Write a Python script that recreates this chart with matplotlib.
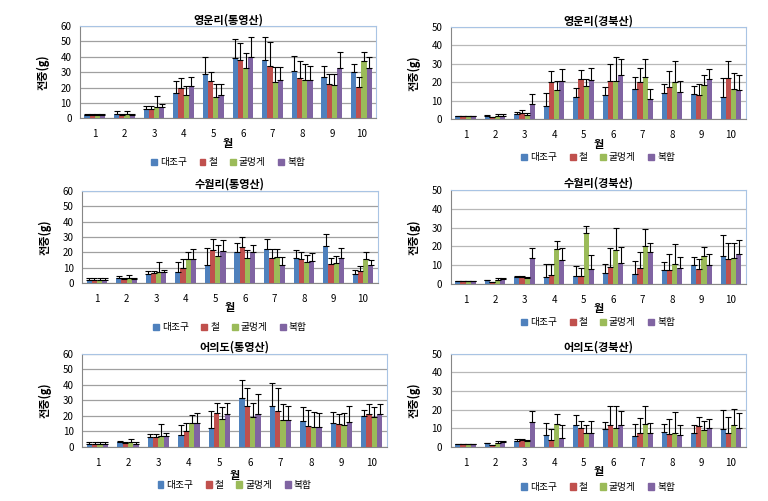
import numpy as np
import matplotlib
matplotlib.use("Agg")
import matplotlib.pyplot as plt
from matplotlib.patches import Patch

plt.rcParams['font.family'] = ['Noto Sans CJK KR', 'DejaVu Sans']

months = ['1', '2', '3', '4', '5', '6', '7', '8', '9', '10']
groups = ['대조구', '철', '굴멍게', '복합']
colors = ['#4F81BD', '#C0504D', '#9BBB59', '#8064A2']

# 영운리(통영산)
t1 = '영운리(통영산)'
m1 = [[2, 3, 6, 16.5, 29, 39, 38, 31, 27, 30],
      [2, 2, 6, 20, 24, 38, 34, 26.5, 22, 20.5],
      [2, 3, 7, 15, 14, 33, 23.5, 25, 21.5, 37],
      [2, 2, 7, 21, 15, 40, 25, 25, 32.5, 33]]
s1 = [[1, 2, 2, 7.5, 11, 12.5, 15, 9.5, 7, 5],
      [1, 1, 2, 6, 6, 11, 15.5, 10.5, 7, 6.5],
      [1, 2, 7.5, 6, 8, 9.5, 10, 10, 7.5, 6],
      [1, 1, 2, 6, 7.5, 13, 8.5, 9, 10.5, 7]]

# 영운리(경북산)
t2 = '영운리(경북산)'
m2 = [[1.5, 2, 3, 7, 12, 13, 16.5, 14, 13.5, 12],
      [1.5, 1, 3.5, 20, 22, 20.5, 20, 17.5, 13, 22.5],
      [1.5, 2, 2.5, 16, 18, 21, 23, 20, 18.5, 16.5],
      [1.5, 2, 8.5, 20.5, 21.5, 24, 11, 15, 22, 16]]
s2 = [[0.2, 0.2, 1, 7, 5, 4.5, 6.5, 5, 4.5, 10.5],
      [0.2, 0.2, 1.5, 6, 4.5, 9.5, 8, 8.5, 6, 9],
      [0.2, 1, 1, 4.5, 4, 12.5, 9.5, 11.5, 5.5, 8.5],
      [0.2, 1, 5, 6.5, 6.5, 8.5, 5.5, 5.5, 5, 8]]

# 수월리(통영산)
t3 = '수월리(통영산)'
m3 = [[2, 3, 6, 7, 12, 20, 22, 16, 24, 6],
      [2, 2.5, 6.5, 10, 21.5, 23.5, 16.5, 15.5, 12.5, 8],
      [2, 3.5, 7, 15.5, 17.5, 16.5, 17, 13.5, 13, 15.5],
      [2, 2.5, 7, 15.5, 21, 20, 12, 14.5, 16.5, 11.5]]
s3 = [[1, 1.5, 2, 7, 11, 6, 6.5, 5.5, 8, 2.5],
      [1, 0.5, 1.5, 5.5, 7, 6.5, 5.5, 5, 4, 3],
      [1, 1.5, 7, 5, 7.5, 5, 5, 4.5, 4.5, 5],
      [1, 0.5, 1.5, 6.5, 7, 5, 5, 5, 6.5, 3.5]]

# 수월리(경북산)
t4 = '수월리(경북산)'
m4 = [[1.5, 2, 3.5, 4, 4.5, 6, 5.5, 7.5, 10, 15],
      [1.5, 1, 3.5, 5, 4.5, 9, 8.5, 7.5, 8, 13.5],
      [1.5, 2, 3, 18.5, 27, 18, 20, 10.5, 15, 14],
      [1.5, 2.5, 14, 13, 8, 11, 17, 8.5, 10, 16]]
s4 = [[0.2, 0.2, 1, 6.5, 5, 4.5, 7, 4, 4.5, 11],
      [0.2, 0.2, 1, 5.5, 4, 10, 8.5, 8.5, 5.5, 8.5],
      [0.2, 1, 0.5, 4.5, 4, 12, 9, 11, 4.5, 8],
      [0.2, 0.5, 5, 6, 7.5, 8.5, 5, 6, 6, 7.5]]

# 어의도(통영산)
t5 = '어의도(통영산)'
m5 = [[2, 3, 6.5, 7.5, 12, 31.5, 26.5, 16.5, 15.5, 20],
      [2, 2.5, 6.5, 10, 22, 26.5, 23, 13.5, 15, 21],
      [2, 3, 7, 15.5, 18, 19.5, 17.5, 12.5, 14, 19],
      [2, 2, 7, 15.5, 21, 21.5, 17.5, 12.5, 16, 21]]
s5 = [[1, 1, 1.5, 6.5, 11, 11.5, 14.5, 9, 7, 4],
      [1, 0.5, 2, 5.5, 6, 11.5, 15, 10.5, 6.5, 6.5],
      [1, 2, 8, 5, 8, 9, 10, 10, 8, 6.5],
      [1, 1, 2, 6.5, 7.5, 12.5, 9, 9.5, 10.5, 6.5]]

# 어의도(경북산)
t6 = '어의도(경북산)'
m6 = [[1.5, 2, 3, 6.5, 12, 9.5, 6, 8, 7.5, 9.5],
      [1.5, 1, 3.5, 3.5, 10, 12, 7.5, 7, 11, 7.5],
      [1.5, 2, 3, 12.5, 7.5, 10, 12.5, 7.5, 9, 12],
      [1.5, 2.5, 13.5, 5, 7.5, 12, 7.5, 6.5, 10, 10]]
s6 = [[0.2, 0.2, 1.5, 6.5, 5, 4, 6.5, 4.5, 4.5, 10.5],
      [0.2, 0.2, 1, 6, 4, 10, 8, 8, 5, 8.5],
      [0.2, 1, 0.5, 5, 4, 12, 9.5, 11, 5, 8.5],
      [0.2, 0.5, 5.5, 6.5, 6.5, 7.5, 5.5, 5, 5, 8]]

panels = [(t1, m1, s1, 60), (t2, m2, s2, 50),
          (t3, m3, s3, 60), (t4, m4, s4, 50),
          (t5, m5, s5, 60), (t6, m6, s6, 50)]

# axes boxes in figure fraction [left, bottom, width, height]
boxes = [[0.104, 0.764, 0.386, 0.184], [0.587, 0.762, 0.384, 0.184],
         [0.107, 0.435, 0.385, 0.184], [0.587, 0.433, 0.384, 0.188],
         [0.107, 0.108, 0.397, 0.186], [0.587, 0.108, 0.384, 0.186]]
# legend centre below the axes, in pixels
leg_off = [44, 38, 44, 38, 38, 40]
# x label pad, points
xl_pad = [-2, -2, -2, -2, 1, -2]

fig = plt.figure(figsize=(7.68, 5.01), dpi=100)

x = np.arange(len(months))
w = 0.175
for i, (title, means, sds, ymax) in enumerate(panels):
    ax = fig.add_axes(boxes[i])
    left = i % 2 == 0
    for k in range(4):
        ax.bar(x + (k - 1.5) * w, means[k], w, color=colors[k],
               yerr=[np.zeros(len(months)), sds[k]],
               error_kw=dict(ecolor='black', elinewidth=0.8, capsize=2.2, capthick=0.8),
               zorder=3)
    ax.set_xlim(-0.5, len(months) - 0.5)
    ax.set_ylim(0, ymax)
    ax.set_yticks(np.arange(0, ymax + 1, 10))
    ax.set_xticks(x)
    ax.set_xticklabels(months)
    ax.grid(axis='y', color='#a0a0a0' if left else '#b8b8b8', lw=0.9, zorder=0)
    ax.tick_params(axis='both', labelsize=7, length=0, pad=8)
    ax.tick_params(axis='y', pad=6)
    for sp in ['left', 'bottom']:
        ax.spines[sp].set_color('#868686')
    for sp in ['top', 'right']:
        ax.spines[sp].set_color('#a9c4e4')
    ax.set_title(title, fontsize=8, fontweight='bold', pad=2)
    ax.set_xlabel('월', fontsize=8, fontweight='bold', labelpad=xl_pad[i])
    ax.set_ylabel('전중(g)', fontsize=8, fontweight='bold', labelpad=8)
    hpx = boxes[i][3] * 501
    handles = [Patch(color=c) for c in colors]
    ax.legend(handles, groups, loc='center', bbox_to_anchor=(0.5, -leg_off[i] / hpx),
              ncol=4, frameon=False, fontsize=7, handlelength=0.6,
              handleheight=0.6, handletextpad=0.3, columnspacing=1.3)

fig.savefig('out.png', dpi=100)
